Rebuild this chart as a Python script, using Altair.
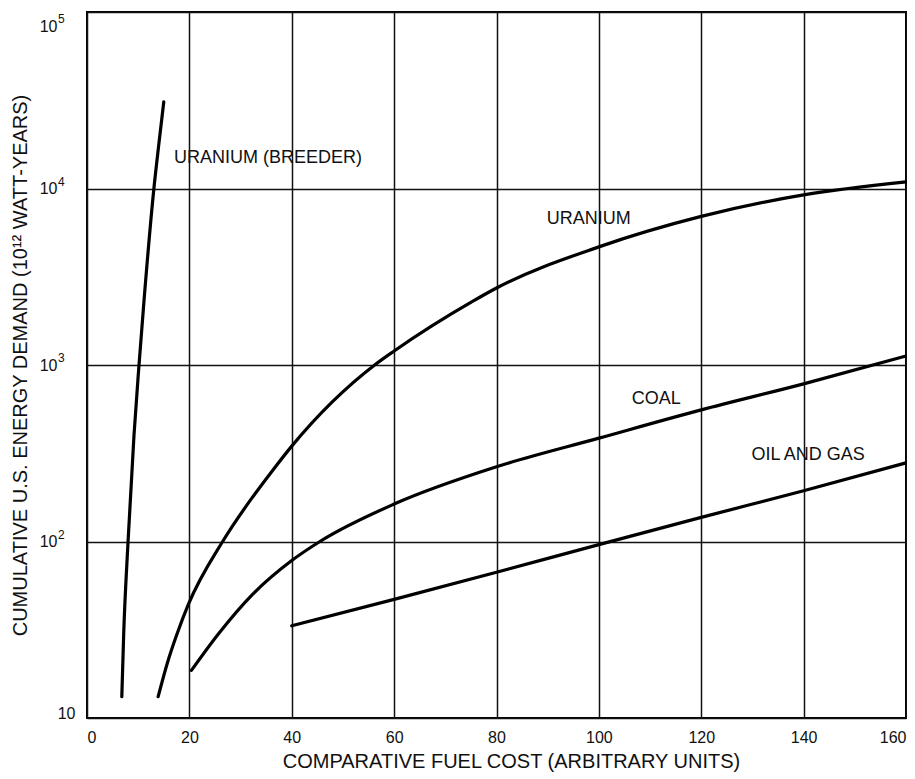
import altair as alt
import pandas as pd

# ---- data ----
breeder_x = [6.8, 7.17, 8.02, 9.18, 10.16, 11.13, 13.07, 14.04, 15.0]
breeder_y = [13.2, 30, 100, 400, 1000, 2300, 10000, 17900, 31000]

uranium_x = [13.9, 15.7, 17.6, 19.8, 26.5, 32.2, 36.0, 40, 56.2, 60, 75.4, 80, 100, 120, 140, 160]
uranium_y = [13.2, 20.5, 30, 44, 100, 176, 247, 347, 1000, 1200, 2300, 2730, 4670, 6950, 9200, 10900]

coal_x = [20.4, 25.7, 32.3, 40, 45.5, 60, 80, 100, 120, 140, 160]
coal_y = [18.6, 30, 50, 78, 100, 163, 265, 385, 557, 782, 1125]

oil_x = [40, 60, 80, 100, 120, 140, 160]
oil_y = [33.3, 47, 67, 96, 137, 194, 279]

label_text = ["URANIUM (BREEDER)", "URANIUM", "COAL", "OIL AND GAS"]
label_x = [17, 89.8, 106.4, 129.8]
label_y = [14900, 6760, 644, 310]

x_ticks = [0, 20, 40, 60, 80, 100, 120, 140, 160]
y_ticks = [10, 100, 1000, 10000, 100000]
exp_values = [100, 1000, 10000]
exp_text = ["2", "3", "4"]
top_exp_value = [100000]
top_exp_text = ["5"]

# ---- build tables ----
rows = []
for name, xs, ys in [("breeder", breeder_x, breeder_y), ("uranium", uranium_x, uranium_y),
                     ("coal", coal_x, coal_y), ("oil", oil_x, oil_y)]:
    for i, (a, b) in enumerate(zip(xs, ys)):
        rows.append({"series": name, "order": i, "x": a, "y": b})
df = pd.DataFrame(rows)
labels = pd.DataFrame({"text": label_text, "x": label_x, "y": label_y})
exps = pd.DataFrame({"v": exp_values, "t": exp_text})
top_exp = pd.DataFrame({"v": top_exp_value, "t": top_exp_text})

FONT = "Liberation Sans"
INK = "#111"

x_scale = alt.Scale(domain=[0, 160], nice=False, zero=False)
y_scale = alt.Scale(type="log", domain=[10, 100000], nice=False)

x_axis = alt.Axis(values=x_ticks, grid=True, ticks=False, domain=False, labelFlush=True,
                  labelFontSize=16, labelFont=FONT, labelColor=INK, labelPadding=11,
                  title="COMPARATIVE FUEL COST (ARBITRARY UNITS)", titleFont=FONT,
                  titleFontSize=20, titleFontWeight="normal", titleColor=INK,
                  titleX=424, titleY=43, titleBaseline="middle", titleAlign="center",
                  gridColor=INK, gridWidth=1.5, gridOpacity=1)

y_axis = alt.Axis(values=y_ticks, grid=True, ticks=False, domain=False, labelExpr="'10'",
                  labelFontSize=16, labelFont=FONT, labelColor=INK,
                  labelPadding={"condition": {"test": "datum.value <= 10", "value": 12},
                                "value": 30},
                  labelBaseline="middle",
                  labelOffset={"condition": [{"test": "datum.value <= 10", "value": -5},
                                             {"test": "datum.value >= 100000", "value": 14}],
                               "value": 0},
                  title="CUMULATIVE U.S. ENERGY DEMAND (10\u00b9\u00b2 WATT-YEARS)", titleFont=FONT,
                  titleFontSize=20, titleFontWeight="normal", titleColor=INK,
                  titleX=-67, titleY=353, titleAngle=270, titleBaseline="middle",
                  titleAlign="center",
                  gridColor=INK, gridWidth=1.5, gridOpacity=1)

lines = alt.Chart(df).mark_line(color="black", strokeWidth=3.2, interpolate="monotone",
                                strokeCap="round").encode(
    x=alt.X("x:Q", scale=x_scale, axis=x_axis),
    y=alt.Y("y:Q", scale=y_scale, axis=y_axis),
    detail="series:N",
    order="order:Q",
)

texts = alt.Chart(labels).mark_text(align="left", baseline="middle", font=FONT,
                                    fontSize=18, color=INK).encode(
    x=alt.X("x:Q", scale=x_scale),
    y=alt.Y("y:Q", scale=y_scale),
    text="text:N",
)

exp_layer = alt.Chart(exps).mark_text(align="left", baseline="middle", font=FONT,
                                      fontSize=12, color=INK, dx=-29, dy=-7).encode(
    x=alt.value(0),
    y=alt.Y("v:Q", scale=y_scale),
    text="t:N",
)

top_exp_layer = alt.Chart(top_exp).mark_text(align="left", baseline="middle", font=FONT,
                                             fontSize=12, color=INK, dx=-29, dy=7).encode(
    x=alt.value(0),
    y=alt.Y("v:Q", scale=y_scale),
    text="t:N",
)

chart = alt.layer(lines, texts, exp_layer, top_exp_layer).properties(
    width=819, height=706,
    autosize=alt.AutoSizeParams(type="none"),
    padding={"left": 79, "top": 4, "right": 1, "bottom": 55},
    background="white",
).configure_view(stroke="black", strokeWidth=2)

chart.save("out.html", embed_options={"renderer": "svg", "actions": False})
